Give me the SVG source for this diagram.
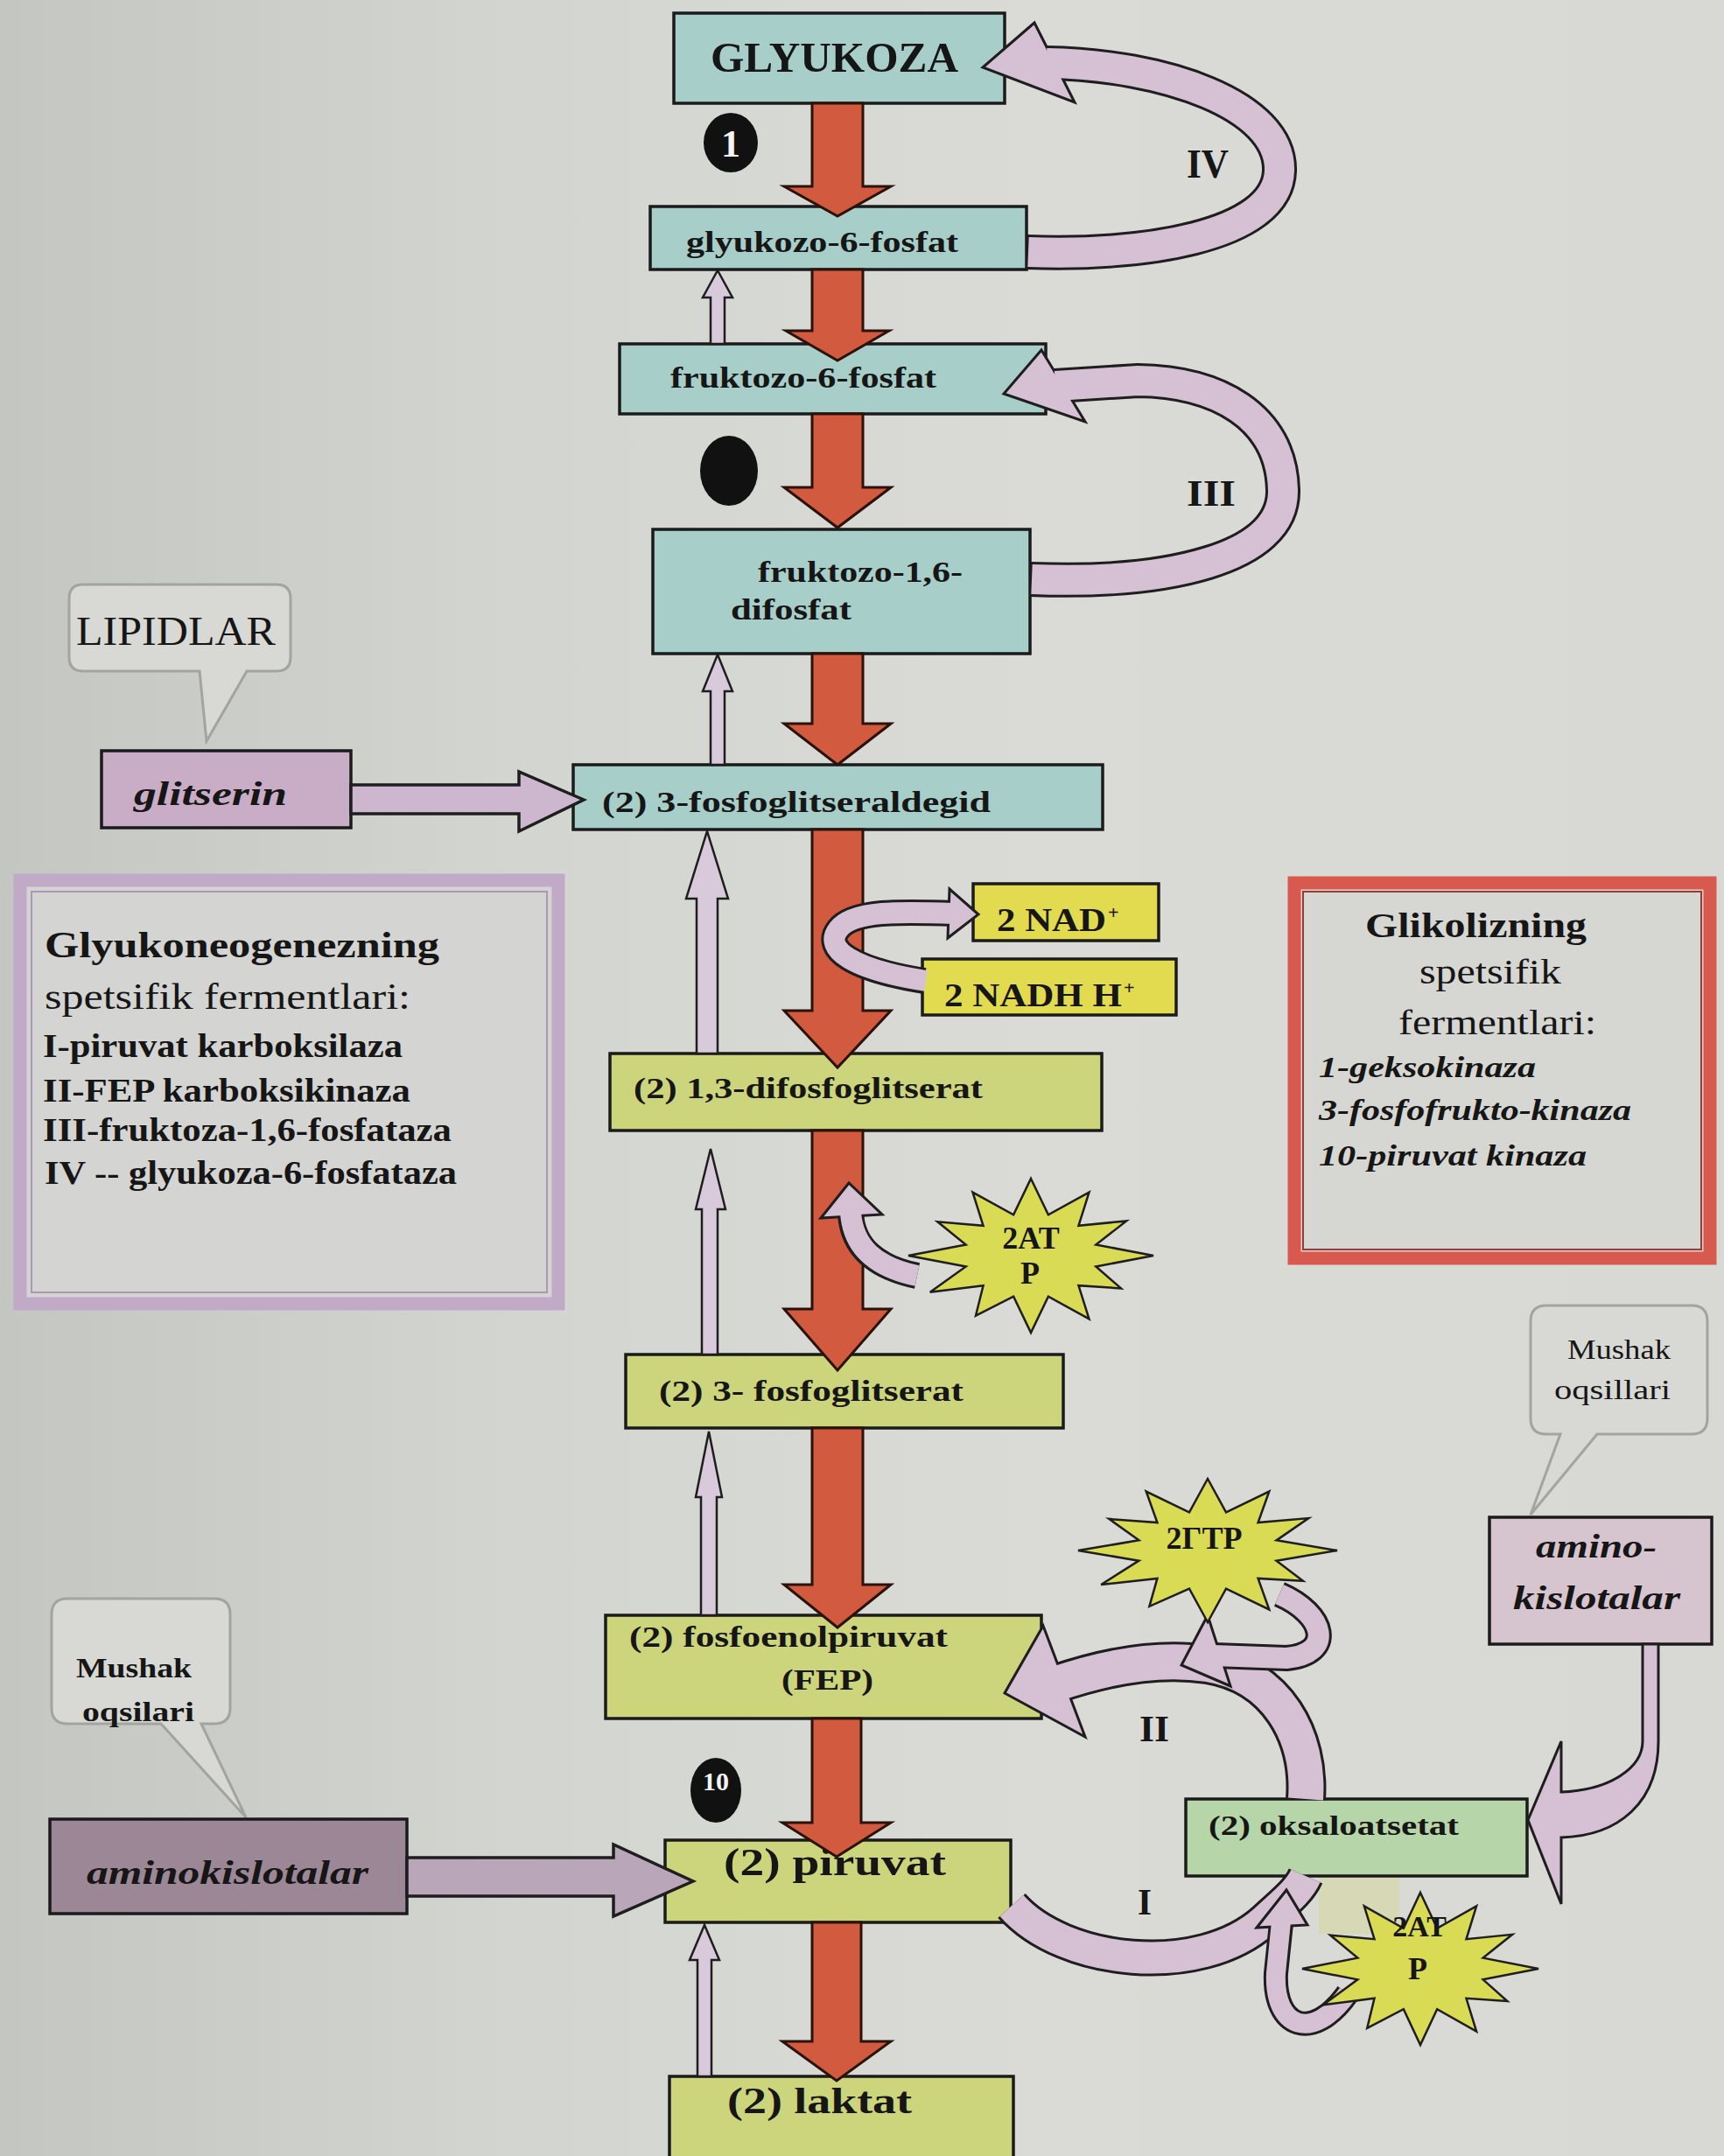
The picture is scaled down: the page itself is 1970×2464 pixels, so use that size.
<svg xmlns="http://www.w3.org/2000/svg" xmlns:xlink="http://www.w3.org/1999/xlink" width="1970" height="2464" viewBox="0 0 1970 2464">
  <defs>
    <linearGradient id="paper" x1="0" y1="0" x2="1" y2="0">
      <stop offset="0" stop-color="#c4c6c2"/>
      <stop offset="0.3" stop-color="#d3d5d0"/>
      <stop offset="0.6" stop-color="#dadbd6"/>
      <stop offset="1" stop-color="#d8d9d4"/>
    </linearGradient>
    <!-- twelve-point burst, unit size; placed with translate/scale -->
    <polygon id="burst" vector-effect="non-scaling-stroke" points="0,-1 0.142,-0.531 0.475,-0.823 0.389,-0.389 0.779,-0.45 0.531,-0.142 1,0 0.531,0.142 0.736,0.425 0.389,0.389 0.475,0.823 0.142,0.531 0,1 -0.142,0.531 -0.45,0.779 -0.389,0.389 -0.823,0.475 -0.531,0.142 -1,0 -0.531,-0.142 -0.762,-0.44 -0.389,-0.389 -0.475,-0.823 -0.142,-0.531"/>
    <style>
      .box { stroke:#1b1b1b; stroke-width:3.5; }
      .teal { fill:#a7cec8; }
      .lime { fill:#ccd47c; }
      .yel { fill:#e2db4f; }
      .mint { fill:#b6d6a9; }
      .t { font-family:"Liberation Serif","DejaVu Serif",serif; fill:#161616; }
      .b { font-weight:bold; }
      .i { font-style:italic; }
      .w { fill:#f4f4f4; }
      .red { fill:#d25a3f; stroke:#2a1209; stroke-width:3; stroke-linejoin:miter; }
      .up { fill:#d8c9db; stroke:#1e1e1e; stroke-width:2.5; }
      .bo { fill:none; stroke:#1e1e1e; stroke-linecap:butt; }
      .bi { fill:none; stroke:#d5c0d4; stroke-linecap:butt; }
      .head { fill:#d5c0d4; stroke:#1e1e1e; stroke-width:3; stroke-linejoin:miter; }
      .blk { fill:#cdb7cf; stroke:#1e1e1e; stroke-width:3.5; }
      .burst { fill:#dadb55; stroke:#1e1e1e; stroke-width:2.5; }
      .callout { fill:#d8d9d5; stroke:#a3a49f; stroke-width:3; }
      .dot { fill:#111111; }
    </style>
  </defs>

  <rect x="0" y="0" width="1970" height="2464" fill="url(#paper)"/>

  <!-- side panels -->
  <g id="panel-gluconeogenesis">
    <rect x="23" y="1006" width="615" height="484" fill="#d4d4d2" stroke="#c1a9c8" stroke-width="15"/>
    <rect x="36" y="1019" width="589" height="458" fill="none" stroke="#ad96b6" stroke-width="2"/>
    <text class="t b" x="51" y="1094" font-size="42" textLength="451" lengthAdjust="spacingAndGlyphs">Glyukoneogenezning</text>
    <text class="t" x="51" y="1153" font-size="42" textLength="418" lengthAdjust="spacingAndGlyphs">spetsifik fermentlari:</text>
    <text class="t b" x="49" y="1208" font-size="37" textLength="411" lengthAdjust="spacingAndGlyphs">I-piruvat karboksilaza</text>
    <text class="t b" x="49" y="1259" font-size="37" textLength="420" lengthAdjust="spacingAndGlyphs">II-FEP karboksikinaza</text>
    <text class="t b" x="49" y="1304" font-size="37" textLength="467" lengthAdjust="spacingAndGlyphs">III-fruktoza-1,6-fosfataza</text>
    <text class="t b" x="51" y="1353" font-size="37" textLength="471" lengthAdjust="spacingAndGlyphs">IV -- glyukoza-6-fosfataza</text>
  </g>

  <g id="panel-glycolysis">
    <rect x="1479" y="1009" width="475" height="429" fill="#d6d7d3" stroke="#d85a4f" stroke-width="15"/>
    <rect x="1489" y="1019" width="455" height="409" fill="none" stroke="#9a3b33" stroke-width="2"/>
    <text class="t b" x="1560" y="1071" font-size="40" textLength="253" lengthAdjust="spacingAndGlyphs">Glikolizning</text>
    <text class="t" x="1622" y="1124" font-size="40" textLength="162" lengthAdjust="spacingAndGlyphs">spetsifik</text>
    <text class="t" x="1598" y="1182" font-size="40" textLength="226" lengthAdjust="spacingAndGlyphs">fermentlari:</text>
    <text class="t b i" x="1507" y="1231" font-size="34" textLength="248" lengthAdjust="spacingAndGlyphs">1-geksokinaza</text>
    <text class="t b i" x="1507" y="1280" font-size="34" textLength="357" lengthAdjust="spacingAndGlyphs">3-fosfofrukto-kinaza</text>
    <text class="t b i" x="1507" y="1332" font-size="34" textLength="306" lengthAdjust="spacingAndGlyphs">10-piruvat kinaza</text>
  </g>

  <!-- speech-bubble sources -->
  <g id="n-lipidlar">
    <path class="callout" d="M95,668 H316 Q332,668 332,684 V751 Q332,767 316,767 H282 L236,847 L228,767 H95 Q79,767 79,751 V684 Q79,668 95,668 Z"/>
    <text class="t" x="87" y="737" font-size="46" textLength="228" lengthAdjust="spacingAndGlyphs">LIPIDLAR</text>
  </g>
  <g id="n-mushak-right">
    <path class="callout" d="M1767,1492 H1933 Q1951,1492 1951,1510 V1621 Q1951,1639 1933,1639 H1825 L1749,1731 L1783,1639 H1767 Q1749,1639 1749,1621 V1510 Q1749,1492 1767,1492 Z"/>
    <text class="t" x="1791" y="1553" font-size="32" textLength="118" lengthAdjust="spacingAndGlyphs">Mushak</text>
    <text class="t" x="1776" y="1599" font-size="32" textLength="133" lengthAdjust="spacingAndGlyphs">oqsillari</text>
  </g>
  <g id="n-mushak-left">
    <path class="callout" d="M77,1827 H245 Q263,1827 263,1845 V1952 Q263,1970 245,1970 H230 L281,2077 L184,1970 H77 Q59,1970 59,1952 V1845 Q59,1827 77,1827 Z"/>
    <text class="t b" x="87" y="1917" font-size="32" textLength="132" lengthAdjust="spacingAndGlyphs">Mushak</text>
    <text class="t b" x="94" y="1967" font-size="32" textLength="128" lengthAdjust="spacingAndGlyphs">oqsilari</text>
  </g>

  <!-- pathway metabolites -->
  <g id="n-glyukoza">
    <rect class="box teal" x="770" y="15" width="378" height="103"/>
    <text class="t b" x="812" y="82" font-size="48" textLength="283" lengthAdjust="spacingAndGlyphs">GLYUKOZA</text>
  </g>
  <g id="n-glyukozo-6-fosfat">
    <rect class="box teal" x="743" y="236" width="430" height="72"/>
    <text class="t b" x="784" y="288" font-size="34" textLength="311" lengthAdjust="spacingAndGlyphs">glyukozo-6-fosfat</text>
  </g>
  <g id="n-fruktozo-6-fosfat">
    <rect class="box teal" x="708" y="393" width="487" height="80"/>
    <text class="t b" x="766" y="443" font-size="34" textLength="304" lengthAdjust="spacingAndGlyphs">fruktozo-6-fosfat</text>
  </g>
  <g id="n-fruktozo-16-difosfat">
    <rect class="box teal" x="746" y="605" width="431" height="142"/>
    <text class="t b" x="866" y="665" font-size="34" textLength="234" lengthAdjust="spacingAndGlyphs">fruktozo-1,6-</text>
    <text class="t b" x="835" y="708" font-size="34" textLength="138" lengthAdjust="spacingAndGlyphs">difosfat</text>
  </g>
  <g id="n-glitserin">
    <rect class="box" x="116" y="858" width="285" height="88" fill="#c9adc7"/>
    <text class="t b i" x="153" y="920" font-size="38" textLength="175" lengthAdjust="spacingAndGlyphs">glitserin</text>
  </g>
  <g id="n-fosfoglitseraldegid">
    <rect class="box teal" x="655" y="874" width="605" height="74"/>
    <text class="t b" x="688" y="928" font-size="34" textLength="444" lengthAdjust="spacingAndGlyphs">(2) 3-fosfoglitseraldegid</text>
  </g>
  <g id="n-nad">
    <rect class="box yel" x="1112" y="1010" width="212" height="65" stroke-width="2.5"/>
    <text class="t b" x="1139" y="1064" font-size="38" textLength="125" lengthAdjust="spacingAndGlyphs">2 NAD</text>
    <text class="t b" x="1266" y="1050" font-size="22">+</text>
  </g>
  <g id="n-nadh">
    <rect class="box yel" x="1054" y="1096" width="290" height="64" stroke-width="2.5"/>
    <text class="t b" x="1079" y="1150" font-size="38" textLength="203" lengthAdjust="spacingAndGlyphs">2 NADH H</text>
    <text class="t b" x="1284" y="1136" font-size="22">+</text>
  </g>
  <g id="n-difosfoglitserat">
    <rect class="box lime" x="697" y="1204" width="562" height="88"/>
    <text class="t b" x="724" y="1255" font-size="34" textLength="399" lengthAdjust="spacingAndGlyphs">(2) 1,3-difosfoglitserat</text>
  </g>
  <g id="n-fosfoglitserat">
    <rect class="box lime" x="715" y="1548" width="500" height="84"/>
    <text class="t b" x="753" y="1601" font-size="34" textLength="348" lengthAdjust="spacingAndGlyphs">(2) 3- fosfoglitserat</text>
  </g>
  <g id="n-aminokislotalar-right">
    <rect class="box" x="1702" y="1734" width="254" height="145" fill="#d6c4cf"/>
    <text class="t b i" x="1755" y="1780" font-size="38" textLength="138" lengthAdjust="spacingAndGlyphs">amino-</text>
    <text class="t b i" x="1729" y="1839" font-size="38" textLength="191" lengthAdjust="spacingAndGlyphs">kislotalar</text>
  </g>
  <g id="n-fosfoenolpiruvat">
    <rect class="box lime" x="692" y="1846" width="498" height="118"/>
    <text class="t b" x="719" y="1882" font-size="34" textLength="364" lengthAdjust="spacingAndGlyphs">(2) fosfoenolpiruvat</text>
    <text class="t b" x="893" y="1931" font-size="34" textLength="105" lengthAdjust="spacingAndGlyphs">(FEP)</text>
  </g>
  <g id="n-aminokislotalar-left">
    <rect class="box" x="57" y="2079" width="408" height="108" fill="#9c8797"/>
    <text class="t b i" x="99" y="2153" font-size="38" textLength="322" lengthAdjust="spacingAndGlyphs" fill="#2a1f28">aminokislotalar</text>
  </g>
  <g id="n-oksaloatsetat">
    <rect x="1507" y="2144" width="92" height="66" fill="#d5d8a8" opacity="0.7"/>
    <rect class="box mint" x="1355" y="2056" width="390" height="88" stroke-width="3"/>
    <text class="t b" x="1381" y="2097" font-size="32" textLength="286" lengthAdjust="spacingAndGlyphs">(2) oksaloatsetat</text>
  </g>
  <g id="n-piruvat">
    <rect class="box lime" x="760" y="2103" width="395" height="94"/>
    <text class="t b" x="827" y="2143" font-size="44" textLength="254" lengthAdjust="spacingAndGlyphs">(2) piruvat</text>
  </g>
  <g id="n-laktat">
    <rect class="box lime" x="765" y="2373" width="393" height="110"/>
    <text class="t b" x="831" y="2415" font-size="42" textLength="211" lengthAdjust="spacingAndGlyphs">(2) laktat</text>
  </g>

  <!-- enzyme step markers -->
  <g id="marker-1">
    <ellipse class="dot" cx="835" cy="163" rx="31" ry="34"/>
    <text class="t b w" x="835" y="179" font-size="44" text-anchor="middle">1</text>
  </g>
  <g id="marker-3">
    <ellipse class="dot" cx="833" cy="538" rx="33" ry="40"/>
  </g>
  <g id="marker-10">
    <ellipse class="dot" cx="818" cy="2046" rx="29" ry="37"/>
    <text class="t b w" x="818" y="2046" font-size="30" text-anchor="middle">10</text>
  </g>

  <g id="connectors">
    <!-- glycolysis: main downward arrows -->
    <polygon class="red" points="928,118 986,118 986,213 1018,213 957,247 896,213 928,213"/>
    <polygon class="red" points="928,308 986,308 986,378 1016,378 957,412 898,378 928,378"/>
    <polygon class="red" points="928,473 986,473 986,557 1018,557 957,603 896,557 928,557"/>
    <polygon class="red" points="928,747 986,747 986,827 1018,827 957,874 896,827 928,827"/>
    <polygon class="red" points="928,948 986,948 986,1155 1018,1155 957,1220 896,1155 928,1155"/>
    <polygon class="red" points="928,1292 986,1292 986,1496 1018,1496 957,1566 896,1496 928,1496"/>
    <polygon class="red" points="928,1632 986,1632 986,1811 1018,1811 957,1860 896,1811 928,1811"/>
    <polygon class="red" points="928,1964 984,1964 984,2083 1018,2083 956,2122 894,2083 928,2083"/>
    <polygon class="red" points="928,2197 984,2197 984,2333 1018,2333 956,2378 894,2333 928,2333"/>

    <!-- gluconeogenesis: thin upward arrows -->
    <polygon class="up" points="812,393 812,340 803,340 820,309 837,340 828,340 828,393"/>
    <polygon class="up" points="812,874 812,790 803,790 820,748 837,790 828,790 828,874"/>
    <polygon class="up" points="796,1204 796,1027 784,1027 808,950 832,1027 820,1027 820,1204"/>
    <polygon class="up" points="802,1548 802,1382 795,1382 812,1313 829,1382 820,1382 820,1548"/>
    <polygon class="up" points="801,1846 801,1711 795,1711 810,1636 825,1711 819,1711 819,1846"/>
    <polygon class="up" points="797,2373 797,2240 788,2240 805,2200 822,2240 813,2240 813,2373"/>

    <!-- feeder arrows -->
    <polygon class="blk" points="401,897 593,897 593,882 667,914 593,950 593,930 401,930"/>
    <polygon class="blk" style="fill:#b9a6b8" points="465,2123 701,2123 701,2108 792,2150 701,2190 701,2167 465,2167"/>
    <path class="head" d="M1877,1879 L1895,1879 L1895,1990 C1895,2060 1850,2098 1784,2100 L1784,2176 L1746,2080 L1784,1990 L1784,2048 C1840,2046 1877,2020 1877,1990 Z"/>

    <!-- IV: glyukozo-6-fosfat back to GLYUKOZA -->
    <path class="bo" stroke-width="40" d="M1173,288 C1300,293 1460,272 1462,195 C1464,120 1330,74 1196,72"/>
    <polygon class="head" points="1182,26 1123,77 1228,117"/>
    <path class="bi" stroke-width="34" d="M1175,288 C1300,293 1460,272 1462,195 C1464,120 1330,74 1196,72"/>
    <text class="t b" x="1356" y="203" font-size="46" textLength="48" lengthAdjust="spacingAndGlyphs">IV</text>

    <!-- III: fruktozo-1,6-difosfat back to fruktozo-6-fosfat -->
    <path class="bo" stroke-width="40" d="M1177,662 C1330,668 1468,640 1466,560 C1464,475 1390,436 1300,435 L1206,441"/>
    <polygon class="head" points="1190,400 1147,450 1240,482"/>
    <path class="bi" stroke-width="34" d="M1179,662 C1330,668 1468,640 1466,560 C1464,475 1390,436 1300,435 L1206,441"/>
    <text class="t b" x="1356" y="578" font-size="42" textLength="56" lengthAdjust="spacingAndGlyphs">III</text>

    <!-- NADH H+ to NAD+ loop -->
    <path class="bo" stroke-width="30" d="M1056,1121 C975,1108 940,1085 958,1062 C975,1040 1030,1042 1092,1044"/>
    <polygon class="head" points="1085,1016 1118,1045 1083,1072"/>
    <path class="bi" stroke-width="24" d="M1058,1121 C975,1108 940,1085 958,1062 C975,1040 1030,1042 1092,1044"/>

    <!-- 2ATP loop on the 1,3-difosfoglitserat step -->
    <path class="bo" stroke-width="30" d="M1048,1458 C1000,1448 975,1425 972,1388"/>
    <polygon class="head" points="938,1392 970,1352 1008,1388"/>
    <path class="bi" stroke-width="24" d="M1048,1458 C1000,1448 975,1425 972,1386"/>

    <!-- I: piruvat to oksaloatsetat -->
    <path class="bo" stroke-width="42" d="M1156,2178 C1215,2245 1370,2262 1445,2195 C1470,2172 1485,2160 1492,2144"/>
    <path class="bi" stroke-width="36" d="M1156,2178 C1215,2245 1370,2262 1445,2195 C1470,2172 1485,2160 1492,2144"/>
    <text class="t b" x="1300" y="2188" font-size="42" textLength="16" lengthAdjust="spacingAndGlyphs">I</text>

    <!-- 2ATP loop on the carboxylation step -->
    <path class="bo" stroke-width="28" d="M1540,2278 C1500,2335 1455,2318 1458,2255 L1464,2198"/>
    <polygon class="head" points="1436,2203 1470,2160 1494,2200"/>
    <path class="bi" stroke-width="22" d="M1540,2278 C1500,2335 1455,2318 1458,2255 L1464,2196"/>

    <!-- II: oksaloatsetat to fosfoenolpiruvat -->
    <path class="bo" stroke-width="46" d="M1492,2056 C1497,1985 1460,1915 1380,1902 C1320,1893 1260,1906 1205,1925"/>
    <polygon class="head" points="1192,1858 1148,1935 1240,1985"/>
    <path class="bi" stroke-width="40" d="M1492,2056 C1497,1985 1460,1915 1380,1902 C1320,1893 1260,1906 1205,1925"/>
    <text class="t b" x="1302" y="1990" font-size="42" textLength="34" lengthAdjust="spacingAndGlyphs">II</text>

    <!-- 2GTP loop on the decarboxylation step -->
    <path class="bo" stroke-width="30" d="M1462,1822 C1515,1845 1525,1890 1470,1895 L1388,1892"/>
    <polygon class="head" points="1380,1846 1350,1903 1406,1927"/>
    <path class="bi" stroke-width="24" d="M1462,1822 C1515,1845 1525,1890 1470,1895 L1386,1892"/>
  </g>

  <!-- energy bursts -->
  <g id="n-atp-1">
    <use href="#burst" class="burst" transform="translate(1178 1435) scale(140 88)"/>
    <text class="t b" x="1178" y="1427" font-size="36" text-anchor="middle">2AT</text>
    <text class="t b" x="1177" y="1467" font-size="36" text-anchor="middle">P</text>
  </g>
  <g id="n-gtp">
    <use href="#burst" class="burst" transform="translate(1380 1772) scale(148 82)"/>
    <text class="t b" x="1376" y="1770" font-size="36" text-anchor="middle">2ГТР</text>
  </g>
  <g id="n-atp-2">
    <use href="#burst" class="burst" transform="translate(1623 2250) scale(135 87)"/>
    <text class="t b" x="1622" y="2213" font-size="34" text-anchor="middle">2AT</text>
    <text class="t b" x="1620" y="2262" font-size="36" text-anchor="middle">P</text>
  </g>
</svg>
